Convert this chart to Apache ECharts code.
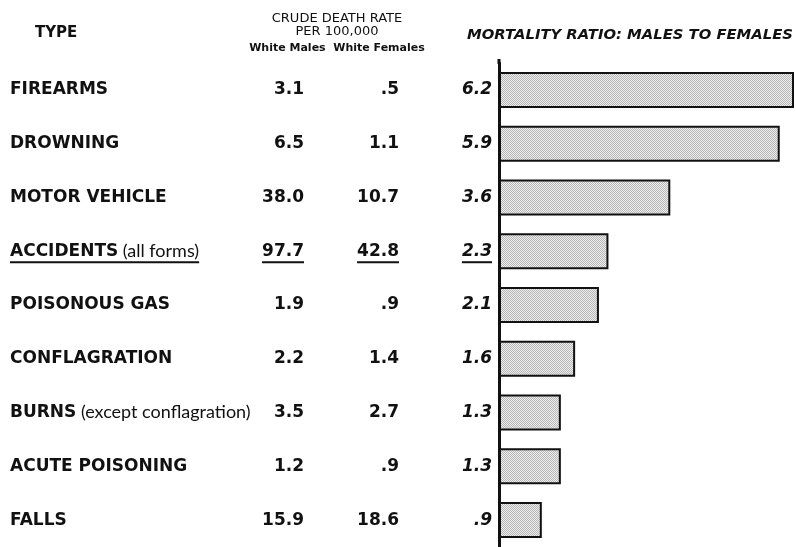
<!DOCTYPE html>
<html>
<head>
<meta charset="utf-8">
<script src="https://cdn.jsdelivr.net/npm/echarts@6/dist/echarts.min.js"></script>
<style>
  html, body { margin: 0; padding: 0; background: #fff; }
  #chart { width: 796px; height: 547px; }
</style>
</head>
<body>
<div id="chart"></div>
<script>
const types = ['FIREARMS', 'DROWNING', 'MOTOR VEHICLE', 'ACCIDENTS', 'POISONOUS GAS',
  'CONFLAGRATION', 'BURNS', 'ACUTE POISONING', 'FALLS'];
const typeNotes = ['', '', '', '(all forms)', '', '', '(except conflagration)', '', ''];
const whiteMales = ['3.1', '6.5', '38.0', '97.7', '1.9', '2.2', '3.5', '1.2', '15.9'];
const whiteFemales = ['.5', '1.1', '10.7', '42.8', '.9', '1.4', '2.7', '.9', '18.6'];
const ratios = [6.2, 5.9, 3.6, 2.3, 2.1, 1.6, 1.3, 1.3, 0.9];
const ratioLabels = ['6.2', '5.9', '3.6', '2.3', '2.1', '1.6', '1.3', '1.3', '.9'];
const underlinedRow = 3;

const FONT = '"DejaVu Sans", sans-serif';
const NOTE_FONT = 'Lato, sans-serif';
const GRID_LEFT = 499;

// dotted screen for the bars
const tile = document.createElement('canvas');
tile.width = 2; tile.height = 2;
const tctx = tile.getContext('2d');
tctx.fillStyle = '#ececec'; tctx.fillRect(0, 0, 2, 2);
tctx.fillStyle = '#b8b8b8'; tctx.fillRect(0, 0, 1, 1); tctx.fillRect(1, 1, 1, 1);

const measureCtx = document.createElement('canvas').getContext('2d');
function textWidth(font, text) {
  measureCtx.font = font;
  return measureCtx.measureText(text).width;
}

const nameStyle = { fontFamily: FONT, fontWeight: 'bold', fontSize: 17, color: '#111' };
const noteStyle = { fontFamily: NOTE_FONT, fontWeight: 'normal', fontSize: 18, color: '#111' };
const numStyle = { fontFamily: FONT, fontWeight: 'bold', fontSize: 17, color: '#111' };
const ratioStyle = { fontFamily: FONT, fontWeight: 'bold', fontStyle: 'italic', fontSize: 17, color: '#111' };

function labelAxis(align, margin, labels, style, extra) {
  return Object.assign({
    type: 'category',
    inverse: true,
    data: types,
    position: 'left',
    axisLine: { show: false },
    axisTick: { show: false },
    splitLine: { show: false },
    axisLabel: Object.assign({
      interval: 0,
      align: align,
      margin: margin,
      formatter: (v, i) => labels(i)
    }, style)
  }, extra || {});
}

const chart = echarts.init(document.getElementById('chart'));
const option = {
  animation: false,
  backgroundColor: '#fff',
  grid: { left: GRID_LEFT, top: 63, width: 295, height: 486 },
  xAxis: { type: 'value', min: 0, max: 6.2, show: false },
  yAxis: [
    labelAxis('right', 7, i => ratioLabels[i], ratioStyle, {
      axisLine: { show: true, lineStyle: { color: '#111', width: 3 } }
    }),
    labelAxis('left', GRID_LEFT - 10, i => typeNotes[i]
      ? '{b|' + types[i] + '}{n| ' + typeNotes[i] + '}'
      : '{b|' + types[i] + '}', {
      rich: { b: nameStyle, n: noteStyle }
    }),
    labelAxis('right', GRID_LEFT - 304, i => whiteMales[i], numStyle),
    labelAxis('right', GRID_LEFT - 399, i => whiteFemales[i], numStyle)
  ],
  series: [{
    type: 'bar',
    yAxisIndex: 0,
    data: ratios,
    barWidth: 36,
    itemStyle: {
      color: { image: tile, repeat: 'repeat' },
      borderColor: '#111',
      borderWidth: 2
    }
  }]
};
chart.setOption(option);

// headers and underlines
const rowY = chart.convertToPixel({ yAxisIndex: 0 }, types[underlinedRow]) + 11;
const nameW = textWidth('bold 17px ' + FONT, types[underlinedRow]) +
  textWidth('18px ' + NOTE_FONT, ' ' + typeNotes[underlinedRow]);
const malesW = textWidth('bold 17px ' + FONT, whiteMales[underlinedRow]);
const femalesW = textWidth('bold 17px ' + FONT, whiteFemales[underlinedRow]);
const ratioW = textWidth('italic bold 17px ' + FONT, ratioLabels[underlinedRow]);
function underline(x1, x2) {
  return { type: 'line', shape: { x1: x1, y1: rowY, x2: x2, y2: rowY },
    style: { stroke: '#111', lineWidth: 2 } };
}
function header(text, x, y, align, size, weight, style) {
  return { type: 'text', x: x, y: y, style: {
    text: text, align: align, verticalAlign: 'middle', fill: '#111',
    fontFamily: FONT, fontSize: size, fontWeight: weight, fontStyle: style || 'normal',
    lineHeight: size + 1 } };
}
chart.setOption({
  graphic: [
    header('TYPE', 35, 33, 'left', 15, 'bold'),
    header('CRUDE DEATH RATE', 337, 19, 'center', 13, 'normal'),
    header('PER 100,000', 337, 32, 'center', 13, 'normal'),
    header('White Males  White Females', 337, 48, 'center', 11, 'bold'),
    header('MORTALITY RATIO: MALES TO FEMALES', 630, 35, 'center', 14.8, 'bold', 'italic'),
    { type: 'line', shape: { x1: GRID_LEFT, y1: 59, x2: GRID_LEFT, y2: 64 },
      style: { stroke: '#111', lineWidth: 3 } },
    underline(10, 10 + nameW),
    underline(304 - malesW, 304),
    underline(399 - femalesW, 399),
    underline(492 - ratioW, 492)
  ]
});
</script>
</body>
</html>
